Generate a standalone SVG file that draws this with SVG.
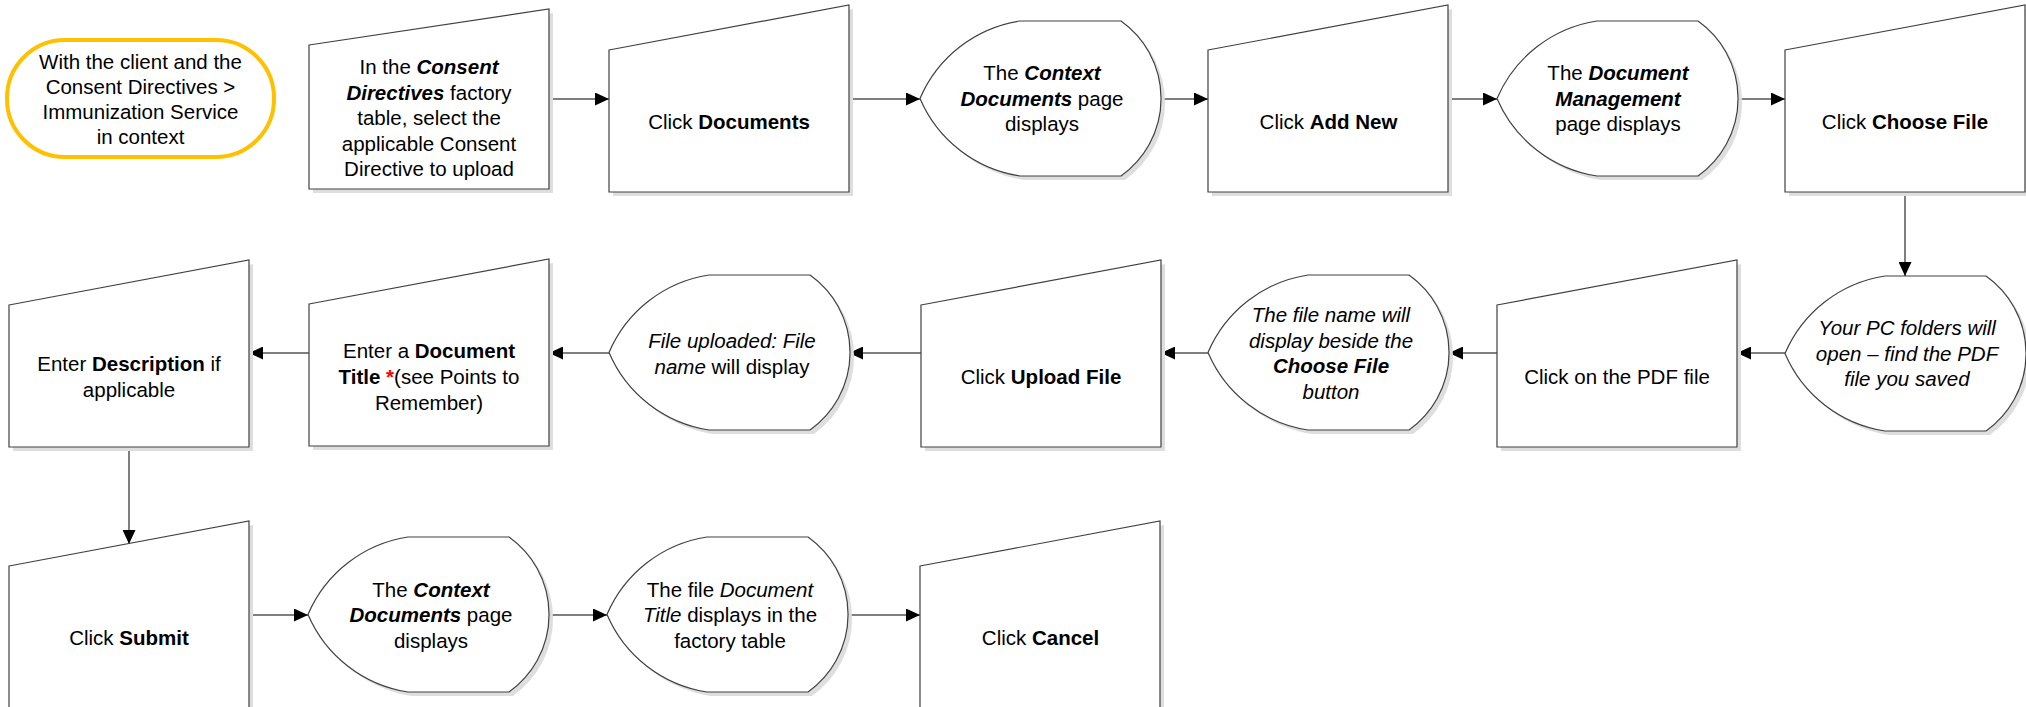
<svg xmlns="http://www.w3.org/2000/svg" width="2026" height="707" viewBox="0 0 2026 707">
  <style>
    .bg { fill: #ffffff; }
    .shape { fill: #ffffff; stroke: #404040; stroke-width: 1.2; }
    .sh { fill: #dedede; stroke: none; }
    .term { fill: #ffffff; stroke: #FFC000; stroke-width: 4; }
    .t { font-family: "Liberation Sans", Arial, sans-serif; font-size: 20.5px; fill: #000000; text-anchor: middle; }
    .b { font-weight: bold; }
    .i { font-style: italic; }
    .red { fill: #FF0000; }
    .conn { fill: none; stroke: #555555; stroke-width: 1.5; marker-end: url(#arrow); }
  </style>
  <defs>
    <!-- manual input: sloped top, 240 x 187 -->
    <path id="man" d="M0,45 L240,0 V187 H0 Z"/>
    <!-- display: pointed left, curved right, 240 x 155 -->
    <path id="disp" d="M100,0 H201 A95,95 0 0 1 201,155 H100 A130,130 0 0 1 0,77.5 A130,130 0 0 1 100,0 Z"/>
    <marker id="arrow" markerUnits="userSpaceOnUse" markerWidth="14" markerHeight="13" refX="14" refY="6.5" orient="auto">
      <path d="M0,0 L14,6.5 L0,13 Z" fill="#000000"/>
    </marker>
  </defs>

  <rect class="bg" x="0" y="0" width="2026" height="707"/>

  <!-- connectors -->
  <g id="connectors">
    <path class="conn" d="M549,99 H609"/>
    <path class="conn" d="M849,99 H920"/>
    <path class="conn" d="M1161,99 H1208"/>
    <path class="conn" d="M1449,99 H1497"/>
    <path class="conn" d="M1737,99 H1785"/>
    <path class="conn" d="M1905,192 V276"/>
    <path class="conn" d="M1785,353 H1737"/>
    <path class="conn" d="M1497,353 H1449"/>
    <path class="conn" d="M1208,353 H1161"/>
    <path class="conn" d="M921,353 H849"/>
    <path class="conn" d="M609,353 H549"/>
    <path class="conn" d="M309,353 H249"/>
    <path class="conn" d="M129,447 V544"/>
    <path class="conn" d="M249,615 H308"/>
    <path class="conn" d="M548,615 H607"/>
    <path class="conn" d="M849,615 H920"/>
  </g>

  <!-- row 1 -->
  <g id="start">
    <rect class="term" x="7" y="40" width="267" height="117" rx="58" ry="58"/>
    <text class="t" x="140.5" y="68.5">With the client and the</text>
    <text class="t" x="140.5" y="93.5">Consent Directives &gt;</text>
    <text class="t" x="140.5" y="118.5">Immunization Service</text>
    <text class="t" x="140.5" y="143.5">in context</text>
  </g>

  <g id="select-directive">
    <polygon class="sh" points="313,49 553,13 553,193 313,193"/>
    <polygon class="shape" points="309,45 549,9 549,189 309,189"/>
    <text class="t" x="429" y="74">In the <tspan class="b i">Consent</tspan></text>
    <text class="t" x="429" y="99.5"><tspan class="b i">Directives</tspan> factory</text>
    <text class="t" x="429" y="125">table, select the</text>
    <text class="t" x="429" y="150.5">applicable Consent</text>
    <text class="t" x="429" y="176">Directive to upload</text>
  </g>

  <g id="click-documents">
    <use class="sh" href="#man" x="613" y="9"/>
    <use class="shape" href="#man" x="609" y="5"/>
    <text class="t" x="729" y="128.5">Click <tspan class="b">Documents</tspan></text>
  </g>

  <g id="context-documents-1">
    <use class="sh" href="#disp" x="924" y="25"/>
    <use class="shape" href="#disp" x="920" y="21"/>
    <text class="t" x="1042" y="80">The <tspan class="b i">Context</tspan></text>
    <text class="t" x="1042" y="105.5"><tspan class="b i">Documents</tspan> page</text>
    <text class="t" x="1042" y="131">displays</text>
  </g>

  <g id="click-add-new">
    <use class="sh" href="#man" x="1212" y="9"/>
    <use class="shape" href="#man" x="1208" y="5"/>
    <text class="t" x="1328.5" y="128.5">Click <tspan class="b">Add New</tspan></text>
  </g>

  <g id="document-management">
    <use class="sh" href="#disp" x="1501" y="25"/>
    <use class="shape" href="#disp" x="1497" y="21"/>
    <text class="t" x="1618" y="80">The <tspan class="b i">Document</tspan></text>
    <text class="t" x="1618" y="105.5"><tspan class="b i">Management</tspan></text>
    <text class="t" x="1618" y="131">page displays</text>
  </g>

  <g id="click-choose-file">
    <use class="sh" href="#man" x="1789" y="9"/>
    <use class="shape" href="#man" x="1785" y="5"/>
    <text class="t" x="1905" y="128.5">Click <tspan class="b">Choose File</tspan></text>
  </g>

  <!-- row 2 -->
  <g id="pc-folders">
    <use class="sh" href="#disp" x="1789" y="280"/>
    <use class="shape" href="#disp" x="1785" y="276"/>
    <text class="t i" x="1907" y="335">Your PC folders will</text>
    <text class="t i" x="1907" y="360.5">open – find the PDF</text>
    <text class="t i" x="1907" y="386">file you saved</text>
  </g>

  <g id="click-pdf">
    <use class="sh" href="#man" x="1501" y="264"/>
    <use class="shape" href="#man" x="1497" y="260"/>
    <text class="t" x="1617" y="383.5">Click on the PDF file</text>
  </g>

  <g id="file-name-display">
    <use class="sh" href="#disp" x="1212" y="279"/>
    <use class="shape" href="#disp" x="1208" y="275"/>
    <text class="t i" x="1331" y="322">The file name will</text>
    <text class="t i" x="1331" y="347.5">display beside the</text>
    <text class="t i" x="1331" y="373"><tspan class="b">Choose File</tspan></text>
    <text class="t i" x="1331" y="398.5">button</text>
  </g>

  <g id="click-upload-file">
    <use class="sh" href="#man" x="925" y="264"/>
    <use class="shape" href="#man" x="921" y="260"/>
    <text class="t" x="1041" y="383.5">Click <tspan class="b">Upload File</tspan></text>
  </g>

  <g id="file-uploaded">
    <use class="sh" href="#disp" x="613" y="279"/>
    <use class="shape" href="#disp" x="609" y="275"/>
    <text class="t" x="732" y="348"><tspan class="i">File uploaded: File</tspan></text>
    <text class="t" x="732" y="374"><tspan class="i">name</tspan> will display</text>
  </g>

  <g id="document-title">
    <use class="sh" href="#man" x="313" y="263"/>
    <use class="shape" href="#man" x="309" y="259"/>
    <text class="t" x="429" y="357.5">Enter a <tspan class="b">Document</tspan></text>
    <text class="t" x="429" y="383.5"><tspan class="b">Title</tspan> <tspan class="b red">*</tspan>(see Points to</text>
    <text class="t" x="429" y="409.5">Remember)</text>
  </g>

  <g id="description">
    <use class="sh" href="#man" x="13" y="264"/>
    <use class="shape" href="#man" x="9" y="260"/>
    <text class="t" x="129" y="371">Enter <tspan class="b">Description</tspan> if</text>
    <text class="t" x="129" y="396.5">applicable</text>
  </g>

  <!-- row 3 -->
  <g id="click-submit">
    <use class="sh" href="#man" x="13" y="525"/>
    <use class="shape" href="#man" x="9" y="521"/>
    <text class="t" x="129" y="645">Click <tspan class="b">Submit</tspan></text>
  </g>

  <g id="context-documents-2">
    <use class="sh" href="#disp" x="312" y="541"/>
    <use class="shape" href="#disp" x="308" y="537"/>
    <text class="t" x="431" y="596.5">The <tspan class="b i">Context</tspan></text>
    <text class="t" x="431" y="622"><tspan class="b i">Documents</tspan> page</text>
    <text class="t" x="431" y="647.5">displays</text>
  </g>

  <g id="title-in-table">
    <use class="sh" href="#disp" x="611" y="541"/>
    <use class="shape" href="#disp" x="607" y="537"/>
    <text class="t" x="730" y="596.5">The file <tspan class="i">Document</tspan></text>
    <text class="t" x="730" y="622"><tspan class="i">Title</tspan> displays in the</text>
    <text class="t" x="730" y="647.5">factory table</text>
  </g>

  <g id="click-cancel">
    <use class="sh" href="#man" x="924" y="525"/>
    <use class="shape" href="#man" x="920" y="521"/>
    <text class="t" x="1040.5" y="645">Click <tspan class="b">Cancel</tspan></text>
  </g>
</svg>
